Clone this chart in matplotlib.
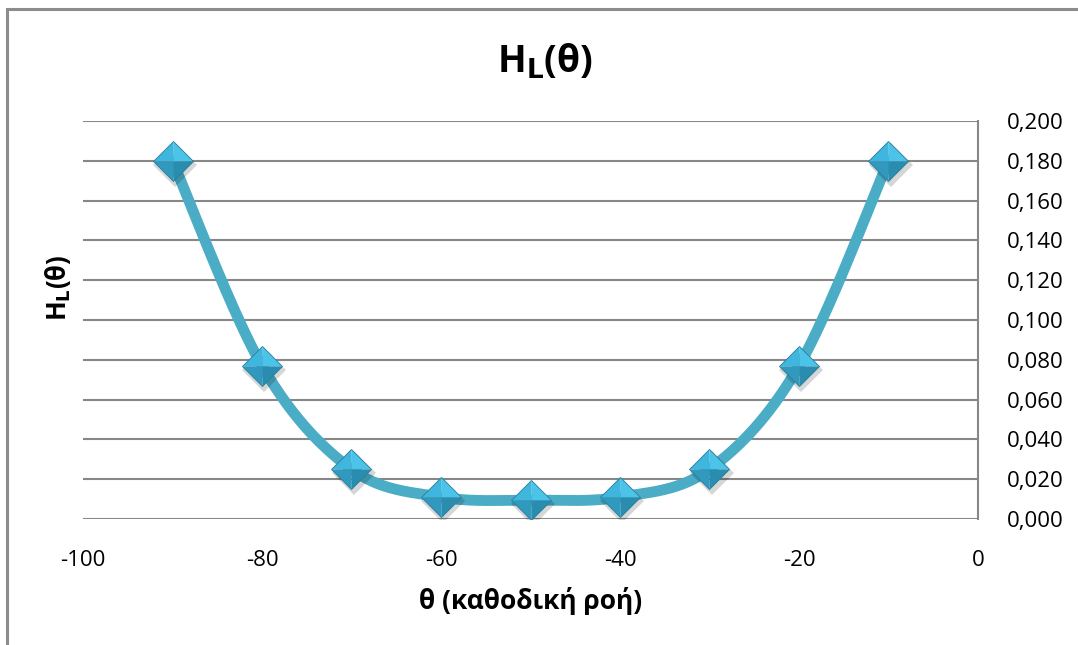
import numpy as np
import matplotlib
matplotlib.use("Agg")
import matplotlib.pyplot as plt
from matplotlib.ticker import FuncFormatter, MultipleLocator
from matplotlib.patches import Rectangle
from matplotlib.transforms import offset_copy

plt.rcParams['font.family'] = ['Open Sans', 'DejaVu Sans']

# ---- data ----
theta = [-90, -80, -70, -60, -50, -40, -30, -20, -10]
HL = [0.180, 0.077, 0.025, 0.011, 0.0095, 0.011, 0.025, 0.077, 0.180]
title = "H$_\\mathbf{L}$(θ)"
xlabel = "θ (καθοδική ροή)"
ylabel = "H$_\\mathbf{L}$(θ)"

line_color = "#4BACC6"
grid_color = "#878787"

fig = plt.figure(figsize=(10.78, 6.45), dpi=100)
W, H = 1078, 645
ax = fig.add_axes([83 / W, 1 - 519 / H, (978 - 83) / W, (519 - 121) / H])

# chart border
fig.add_artist(Rectangle((7 / W, -0.1), 1.2, 1 - 9 / H + 0.1, transform=fig.transFigure,
                         fill=False, edgecolor="#8c8c8c", linewidth=2.2, zorder=0))


def smooth(xs, ys, n=40):
    xs = np.asarray(xs, float)
    ys = np.asarray(ys, float)
    P = np.column_stack([xs, ys])
    Pe = np.vstack([P[0], P, P[-1]])
    out = []
    t = np.linspace(0, 1, n)[:, None]
    for i in range(len(P) - 1):
        p0, p1, p2, p3 = Pe[i], Pe[i + 1], Pe[i + 2], Pe[i + 3]
        c1 = p1 + (p2 - p0) / 6.0
        c2 = p2 - (p3 - p1) / 6.0
        seg = ((1 - t) ** 3) * p1 + 3 * ((1 - t) ** 2) * t * c1 + 3 * (1 - t) * t ** 2 * c2 + t ** 3 * p2
        out.append(seg if i == 0 else seg[1:])
    out = np.vstack(out)
    return out[:, 0], out[:, 1]


sx, sy = smooth(theta, HL)
ax.plot(sx, sy, color=line_color, linewidth=7.8, solid_capstyle='round', zorder=3)

# 3D-like diamond markers
ms = 20.5
sh = offset_copy(ax.transData, fig=fig, x=1.5, y=-3, units='points')
ax.plot(theta, HL, linestyle='none', marker='D', markersize=ms + 1.5, color='#000000',
        alpha=0.16, markeredgewidth=0, transform=sh, zorder=4)
facets = [
    ([(0, 0), (-1, 0), (0, 1)], "#3FB6DD"),   # top-left
    ([(0, 0), (0, 1), (1, 0)], "#4CC4EA"),    # top-right
    ([(0, 0), (1, 0), (0, -1)], "#2A8DB0"),   # bottom-right
    ([(0, 0), (0, -1), (-1, 0)], "#3199BE"),  # bottom-left
]
for verts, c in facets:
    ax.plot(theta, HL, linestyle='none', marker=verts, markersize=ms * 1.414,
            color=c, markeredgewidth=0, zorder=5)
ax.plot(theta, HL, linestyle='none', marker='D', markersize=ms, markerfacecolor='none',
        markeredgecolor='#2a7f9c', markeredgewidth=0.6, zorder=6)

ax.set_xlim(-100, 0)
ax.set_ylim(0, 0.2)
ax.xaxis.set_major_locator(MultipleLocator(20))
ax.yaxis.set_major_locator(MultipleLocator(0.02))
ax.yaxis.tick_right()
ax.yaxis.set_major_formatter(FuncFormatter(lambda v, p: f"{v:.3f}".replace('.', ',')))
ax.xaxis.set_major_formatter(FuncFormatter(lambda v, p: f"{v:.0f}"))
ax.tick_params(axis='both', length=0, labelsize=16, colors='black')
ax.tick_params(axis='y', pad=21)
ax.tick_params(axis='x', pad=22)

ax.grid(axis='y', color=grid_color, linewidth=1.5)
ax.set_axisbelow(True)
for s in ['top', 'left', 'bottom']:
    ax.spines[s].set_visible(False)
ax.spines['right'].set_color(grid_color)
ax.spines['right'].set_linewidth(1.5)

ax.set_xlabel(xlabel, fontsize=19, fontweight='bold', labelpad=12)
fig.text(58 / W, 1 - 288 / H, ylabel, rotation=90, fontsize=18.5, fontweight='bold',
         ha='center', va='center')
fig.text(545 / W, 1 - 62 / H, title, fontsize=27, fontweight='bold', ha='center', va='center')

fig.savefig("out.png", dpi=100)
